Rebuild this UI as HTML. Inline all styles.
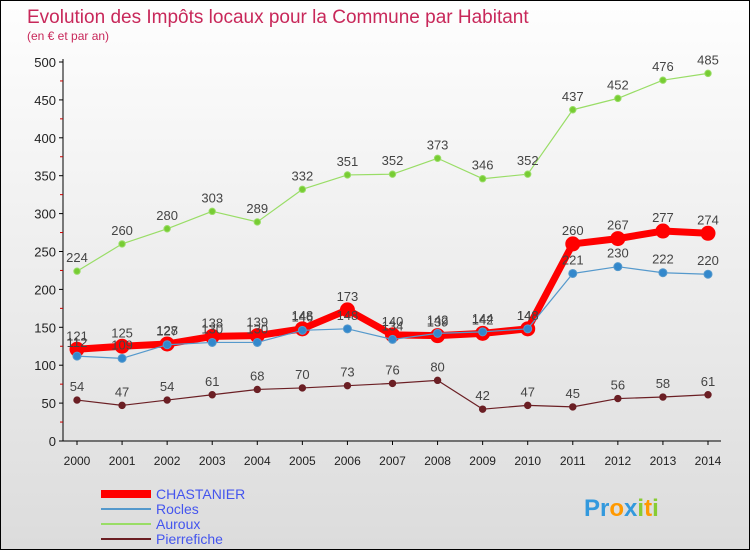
<!DOCTYPE html>
<html><head><meta charset="utf-8"><style>
body{margin:0;background:#fff;}
#wrap{position:relative;width:748px;height:548px;border:1px solid #000;background:linear-gradient(#fefefe,#dcdcdc);overflow:hidden;font-family:"Liberation Sans",sans-serif;}
svg{position:absolute;left:0;top:0;}
</style></head><body>
<div id="wrap">
<svg id="chart" width="750" height="550"></svg>
</div>
<script>
const years=[2000,2001,2002,2003,2004,2005,2006,2007,2008,2009,2010,2011,2012,2013,2014];
const chastanier=[121,125,128,138,139,148,173,140,139,142,148,260,267,277,274];
const rocles=[112,109,127,130,130,146,148,134,142,144,148,221,230,222,220];
const auroux=[224,260,280,303,289,332,351,352,373,346,352,437,452,476,485];
const pierrefiche=[54,47,54,61,68,70,73,76,80,42,47,45,56,58,61];
const yTicks=[0,50,100,150,200,250,300,350,400,450,500];
const NS="http://www.w3.org/2000/svg";
const svg=document.getElementById('chart');
const x=i=>76+i*(707-76)/14;
const y=v=>440-v*(440-61)/500;
function el(t,a,p){const e=document.createElementNS(NS,t);for(const k in a)e.setAttribute(k,a[k]);(p||svg).appendChild(e);return e;}
function txt(s,a){const e=el('text',a);e.textContent=s;return e;}
let t=txt('Evolution des Impôts locaux pour la Commune par Habitant',{x:26,y:22,'font-size':19,fill:'#c8285a'});

t=txt('(en € et par an)',{x:26,y:39,'font-size':12,fill:'#c8285a'});

let ax=el('line',{x1:62,y1:58,x2:62,y2:440,stroke:'#000'});

ax=el('line',{x1:62,y1:440,x2:720,y2:440,stroke:'#000'});

yTicks.forEach(v=>{el('line',{x1:58,y1:y(v),x2:62,y2:y(v),stroke:'#000'});
 if(v<500) el('line',{x1:59,y1:y(v+25),x2:62,y2:y(v+25),stroke:'#c00'});
 const l=txt(v,{x:55,y:y(v)+5,'font-size':13,fill:'#222','text-anchor':'end'});
 });
years.forEach((yr,i)=>{el('line',{x1:x(i),y1:440,x2:x(i),y2:444,stroke:'#000'});
 const l=txt(yr,{x:x(i),y:464,'font-size':12,fill:'#222','text-anchor':'middle'});
 });
function series(d,color,dot,w,r,name){
 const g=el('g',{});
 el('polyline',{points:d.map((v,i)=>x(i)+','+y(v)).join(' '),fill:'none',stroke:color,'stroke-width':w,'stroke-linejoin':'round'},g);
 d.forEach((v,i)=>{const c=el('circle',{cx:x(i),cy:y(v),r:r,fill:dot,stroke:color,'stroke-width':1},g);
  
  const l=el('text',{x:x(i),y:y(v)-9,'font-size':13,fill:'#444','text-anchor':'middle'},g);l.textContent=v;
  });
}
series(pierrefiche,'#6b1f24','#6b1f24',1.2,3.2,'pierrefiche');
series(auroux,'#99dd66','#77cc33',1.2,3.2,'auroux');
series(chastanier,'#ff0000','#ff0000',7,7,'chastanier');
series(rocles,'#5599cc','#3388cc',1.2,4,'rocles');
const leg=[['CHASTANIER','#ff0000',8],['Rocles','#5599cc',2],['Auroux','#99dd66',2],['Pierrefiche','#6b1f24',2]];
leg.forEach((L,i)=>{const g=el('g',{});
 const yy=493+i*15;el('line',{x1:100,y1:yy,x2:150,y2:yy,stroke:L[1],'stroke-width':L[2]},g);
 const l=el('text',{x:155,y:yy+5,'font-size':14,fill:'#4455ee'},g);l.textContent=L[0];});
const p=txt('',{x:583,y:515,'font-size':24,'font-weight':'bold'});

[['Pr','#3399dd'],['o','#ff9900'],['x','#3399dd'],['i','#88cc33'],['t','#ff9900'],['i','#88cc33']].forEach(s=>{const ts=el('tspan',{fill:s[1]},p);ts.textContent=s[0];});
</script>
</body></html>
